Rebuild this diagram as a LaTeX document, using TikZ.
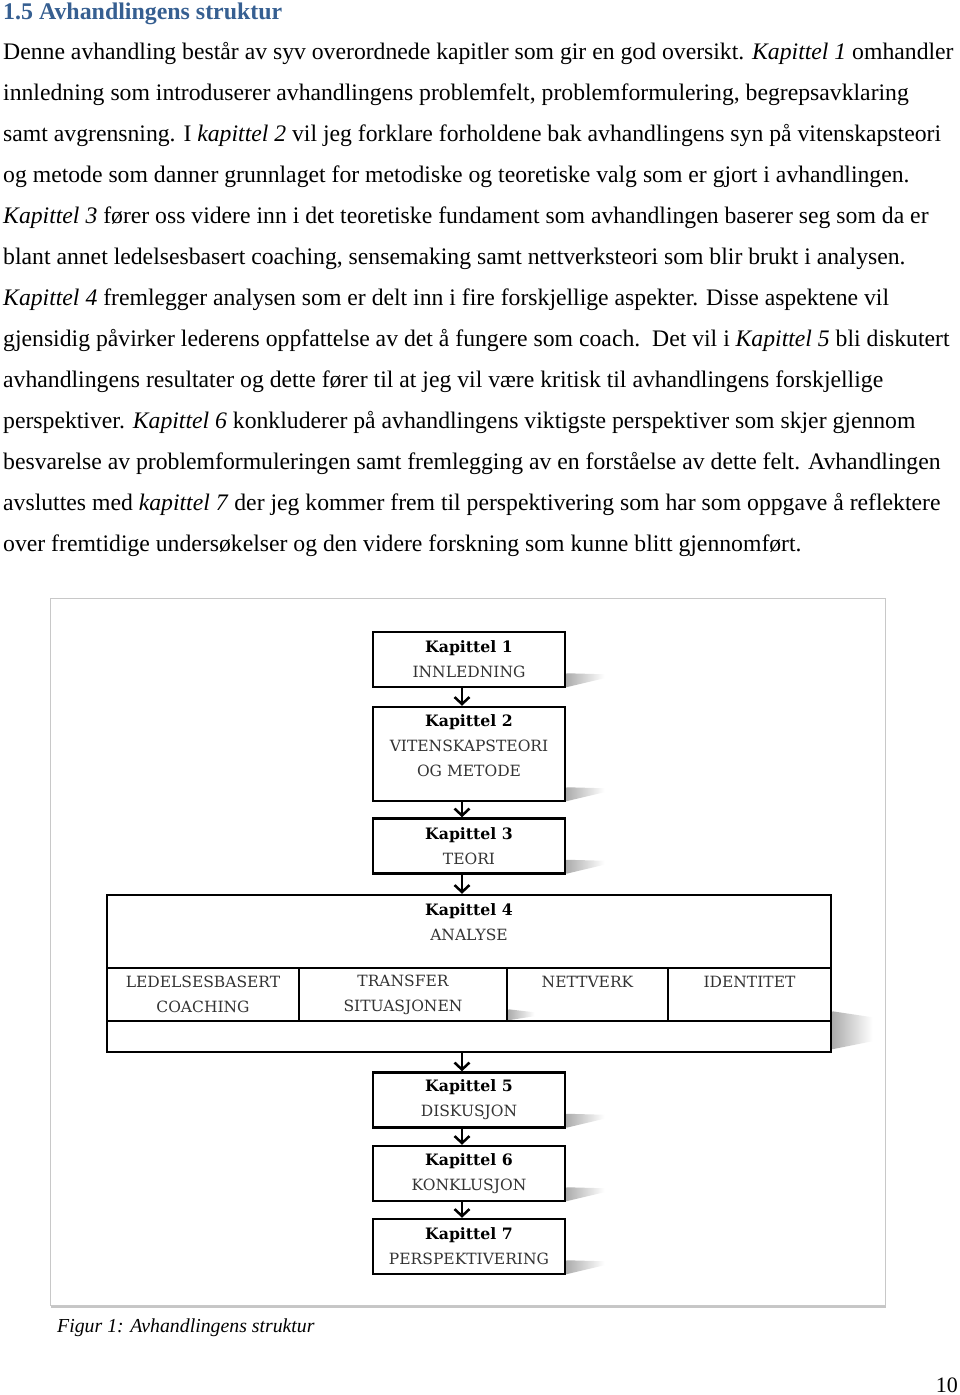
\documentclass[tikz,border=0pt]{standalone}
\usepackage{fontspec}
\setmainfont{Liberation Serif}
\newfontfamily\boxfont{DejaVu Serif}
\usetikzlibrary{positioning, arrows.meta, backgrounds, shadows}
\definecolor{headblue}{HTML}{365F91}
\definecolor{capgray}{HTML}{333333}
\definecolor{framegray}{HTML}{C8C8C8}
\newcommand{\kap}[2]{{\bfseries\color{black}\fontsize{15.7}{25}\selectfont Kapittel #1}\\#2}

\begin{document}
\begin{tikzpicture}[x=1pt, y=-1pt,
        chapbox/.style={draw, line width=2.5pt, fill=white, minimum width=192pt, minimum height=55pt, inner sep=0pt, align=center, text=capgray, font=\boxfont\fontsize{15.5}{25}\selectfont},
        cellbox/.style={draw, line width=2.5pt, minimum height=53pt, inner sep=0pt, align=center, text=capgray, font=\boxfont\fontsize{15.5}{25}\selectfont},
        arr/.style={line width=2.5pt, -{Straight Barb[length=7pt, width=15pt]}},
        boxshadow/.style={left color=gray!65, right color=white, draw=none}
    ]
      \useasboundingbox (0,0) rectangle (960,1395);

      % page text
      \node[anchor=base west, inner sep=0pt, text=headblue, font=\bfseries\fontsize{23.9}{28}\selectfont] (heading) at (3,19) {1.5 Avhandlingens struktur};
      \node[anchor=north west, inner sep=0pt, align=left, font=\fontsize{23.7}{41}\selectfont] (para) at (3,42)
           {Denne avhandling består av syv overordnede kapitler som gir en god oversikt. \textit{Kapittel 1} omhandler\\
            innledning som introduserer avhandlingens problemfelt, problemformulering, begrepsavklaring\\
            samt avgrensning. I \textit{kapittel 2} vil jeg forklare forholdene bak avhandlingens syn på vitenskapsteori\\
            og metode som danner grunnlaget for metodiske og teoretiske valg som er gjort i avhandlingen.\\
            \textit{Kapittel 3} fører oss videre inn i det teoretiske fundament som avhandlingen baserer seg som da er\\
            blant annet ledelsesbasert coaching, sensemaking samt nettverksteori som blir brukt i analysen.\\
            \textit{Kapittel 4} fremlegger analysen som er delt inn i fire forskjellige aspekter. Disse aspektene vil\\
            gjensidig påvirker lederens oppfattelse av det å fungere som coach.\ \ Det vil i \textit{Kapittel 5} bli diskutert\\
            avhandlingens resultater og dette fører til at jeg vil være kritisk til avhandlingens forskjellige\\
            perspektiver. \textit{Kapittel 6} konkluderer på avhandlingens viktigste perspektiver som skjer gjennom\\
            besvarelse av problemformuleringen samt fremlegging av en forståelse av dette felt. Avhandlingen\\
            avsluttes med \textit{kapittel 7} der jeg kommer frem til perspektivering som har som oppgave å reflektere\\
            over fremtidige undersøkelser og den videre forskning som kunne blitt gjennomført.};

      % chapter boxes
      \node[chapbox] (kap1) at (469,659.5) {\kap{1}{INNLEDNING}};
      \node[chapbox, minimum height=94pt, text depth=17pt] (kap2) at (469,754) {\kap{2}{VITENSKAPSTEORI\\OG METODE}};
      \node[chapbox] (kap3) at (469,846) {\kap{3}{TEORI}};
      \node[draw, line width=2.5pt, minimum width=724pt, minimum height=157pt, inner sep=0pt] (kap4) at (469,973.5) {};
      \node[align=center, text=capgray, font=\boxfont\fontsize{15.5}{25}\selectfont] (kap4title) at (469,922) {\kap{4}{ANALYSE}};
      \node[cellbox, minimum width=192pt] (ledelse) at (203,994.5) {LEDELSESBASERT\\COACHING};
      \node[cellbox, minimum width=208pt] (transfer) at (403,994.5) {TRANSFER\\SITUASJONEN};
      \node[cellbox, minimum width=161pt] (nettverk) at (587.5,994.5) {NETTVERK\\\mbox{}};
      \node[cellbox, minimum width=163pt] (identitet) at (749.5,994.5) {IDENTITET\\\mbox{}};
      \node[chapbox] (kap5) at (469,1100) {\kap{5}{DISKUSJON}};
      \node[chapbox] (kap6) at (469,1173.5) {\kap{6}{KONKLUSJON}};
      \node[chapbox] (kap7) at (469,1246.5) {\kap{7}{PERSPEKTIVERING}};

      % frame and shadows
      \begin{scope}[on background layer]
        \node[draw=framegray, line width=1pt, fill=white, minimum width=835pt, minimum height=707pt,
              drop shadow={shadow xshift=1pt, shadow yshift=-3pt, opacity=.45}] (frame) at (467.5,951.5) {};
        \foreach \b in {kap1,kap2,kap3,kap5,kap6,kap7}
          \shade[boxshadow] ([yshift=15pt]\b.south east) -- ([xshift=38pt,yshift=14pt]\b.south east)
                -- ([xshift=38pt,yshift=10pt]\b.south east) -- ([yshift=1pt]\b.south east) -- cycle;
        \shade[boxshadow] ([yshift=42pt]kap4.south east) -- ([xshift=40pt,yshift=36pt]kap4.south east)
              -- ([xshift=40pt,yshift=12pt]kap4.south east) -- ([yshift=4pt]kap4.south east) -- cycle;
        \shade[boxshadow] ([yshift=13pt]transfer.south east) -- ([xshift=26pt,yshift=10pt]transfer.south east)
              -- ([xshift=26pt,yshift=6pt]transfer.south east) -- ([yshift=2pt]transfer.south east) -- cycle;
      \end{scope}

      % arrows
      \coordinate (axis) at (462,0);
      \draw[arr] (kap1.south -| axis) -- (kap2.north -| axis);
      \draw[arr] (kap2.south -| axis) -- (kap3.north -| axis);
      \draw[arr] (kap3.south -| axis) -- (kap4.north -| axis);
      \draw[arr] (kap4.south -| axis) -- (kap5.north -| axis);
      \draw[arr] (kap5.south -| axis) -- (kap6.north -| axis);
      \draw[arr] (kap6.south -| axis) -- (kap7.north -| axis);

      \node[anchor=west, inner sep=0pt, font=\itshape\fontsize{19.8}{23}\selectfont] (caption) at (57,1328) {Figur 1: Avhandlingens struktur};
      \node[anchor=east, inner sep=0pt, font=\fontsize{22}{26}\selectfont] (pagenum) at (958,1385) {10};
    \end{tikzpicture}
\end{document}
